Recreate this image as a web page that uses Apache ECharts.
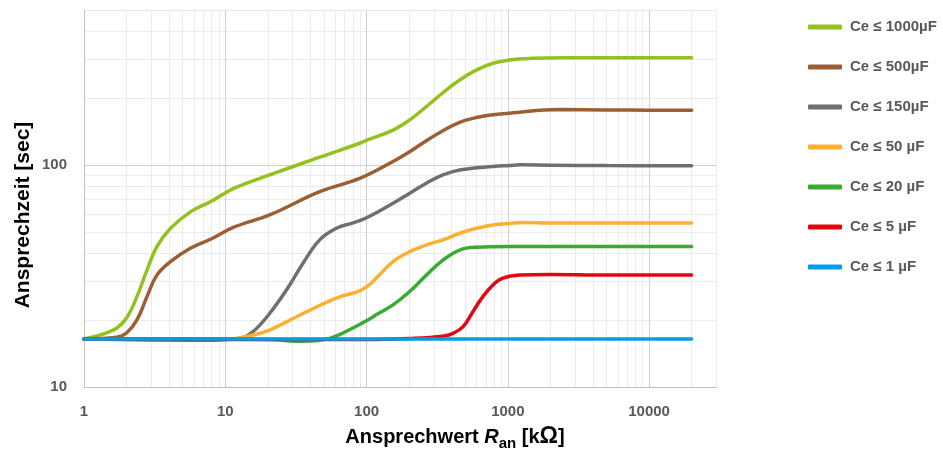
<!DOCTYPE html>
<html>
<head>
<meta charset="utf-8">
<script src="https://cdn.jsdelivr.net/npm/echarts@6/dist/echarts.min.js"></script>
<style>
html,body{margin:0;padding:0;background:#fff;}
#chart{width:943px;height:450px;}
</style>
</head>
<body>
<div id="chart"></div>
<script>
// ---- Data ----
const seriesNames = ['Ce ≤ 1000µF','Ce ≤ 500µF','Ce ≤ 150µF','Ce ≤ 50 µF','Ce ≤ 20 µF','Ce ≤ 5 µF','Ce ≤ 1 µF'];
const seriesColors = ['#95c11f','#9b5f33','#6f6f6f','#fbb034','#3aaa35','#e30613','#009fe3'];

const x1000 = [1, 1.38, 1.71, 2.0, 2.37, 2.79, 3.28, 4.1, 5.7, 7.85, 11.5, 20.6, 46.6, 89.4, 105, 154, 202, 265, 347, 456, 598, 785, 1030, 1500, 2500, 5000, 10000, 20000];
const y1000 = [16.5, 17.4, 18.5, 20.5, 25.6, 33.7, 43, 52, 61.8, 68.5, 78.7, 90.4, 108.7, 125.6, 131, 144, 160, 183.6, 212, 242, 268, 288, 298, 303, 305, 305, 305, 305];

const x500 = [1, 1.71, 2.01, 2.37, 2.79, 3.28, 4.09, 5.66, 7.85, 11.5, 20.6, 46.6, 89.4, 154, 202, 265, 347, 456, 598, 785, 1030, 2330, 5000, 10000, 20000];
const y500 = [16.5, 16.8, 17.6, 20.1, 25.6, 32, 36.8, 42.3, 46.4, 52.6, 59.7, 76, 87.3, 104, 115, 129, 143, 156, 164, 168.7, 171.6, 178, 177.5, 177, 177];

const x150 = [1, 7, 12.6, 15.7, 20.6, 27.1, 35.5, 46.6, 61.1, 80.1, 100, 154, 202, 265, 347, 456, 785, 1030, 1213, 2000, 5000, 20000];
const y150 = [16.5, 16.3, 16.6, 17.8, 21.5, 27.4, 36.2, 46.1, 52, 55, 58, 67.4, 74.8, 83, 90.4, 95.2, 98.8, 99.8, 100.4, 100, 99.6, 99.5];

const x50 = [1, 10.7, 15.7, 20.6, 35.5, 61.1, 89.4, 105, 117, 154, 202, 265, 347, 456, 598, 785, 1030, 1300, 2000, 5000, 20000];
const y50 = [16.5, 16.5, 17.2, 18.1, 21.5, 25.2, 27.2, 29, 31, 36.8, 40.8, 43.8, 46.1, 49.4, 52, 53.8, 54.7, 55.2, 55, 55, 55];

const x20 = [1, 20, 35.5, 54.8, 80.1, 105, 117, 154, 202, 265, 347, 456, 598, 1030, 2000, 5000, 20000];
const y20 = [16.5, 16.4, 16.1, 16.6, 18.5, 20.3, 21.2, 23.5, 27, 32, 37.4, 41.5, 42.7, 43, 43, 43, 43];

const x5 = [1, 100, 200, 347, 409, 481, 566, 666, 785, 923, 1213, 2000, 5000, 20000];
const y5 = [16.5, 16.4, 16.6, 17, 17.5, 18.7, 21.9, 25.6, 28.9, 31, 32, 32.2, 32, 32];

const x1 = [1, 10, 100, 1000, 10000, 20000];
const y1 = [16.5, 16.5, 16.5, 16.5, 16.5, 16.5];

// ---- Axis ticks / grid values ----
const xMin = 1, xMax = 30000;
const yMin = 10, yMax = 500;
const xMajorGrid = [10, 100, 1000, 10000];
const yMajorGrid = [100];
const xMinorGrid = [2,3,4,5,6,7,8,9,20,30,40,50,60,70,80,90,200,300,400,500,600,700,800,900,2000,3000,4000,5000,6000,7000,8000,9000,20000,30000];
const yMinorGrid = [20,30,40,50,60,70,80,90,200,300,400,500];

const xs = [x1000, x500, x150, x50, x20, x5, x1];
const ys = [y1000, y500, y150, y50, y20, y5, y1];

const chart = echarts.init(document.getElementById('chart'), null, {renderer: 'canvas'});

const pow10Label = function (v) {
  const l = Math.log10(v);
  return Math.abs(l - Math.round(l)) < 1e-6 ? String(Math.round(v)) : '';
};

const FONT = '"Liberation Sans", Arial, sans-serif';

const gridSeries = [
  {
    name: '_minor', type: 'line', data: [], z: 0, silent: true, animation: false,
    markLine: {
      z: 0, silent: true, animation: false, symbol: ['none','none'], label: {show: false},
      lineStyle: {color: '#ebebeb', width: 1, type: 'solid'},
      emphasis: {disabled: true},
      data: xMinorGrid.map(v => ({xAxis: v})).concat(yMinorGrid.map(v => ({yAxis: v})))
    }
  },
  {
    name: '_major', type: 'line', data: [], z: 1, silent: true, animation: false,
    markLine: {
      z: 1, silent: true, animation: false, symbol: ['none','none'], label: {show: false},
      lineStyle: {color: '#d0d0d0', width: 1, type: 'solid'},
      emphasis: {disabled: true},
      data: xMajorGrid.map(v => ({xAxis: v})).concat(yMajorGrid.map(v => ({yAxis: v})))
    }
  }
];

const dataSeries = seriesNames.map((name, i) => ({
  name: name,
  type: 'line',
  z: 3 + i,
  smooth: 0.4,
  showSymbol: false,
  symbol: 'none',
  animation: false,
  color: seriesColors[i],
  lineStyle: {width: 3.5, color: seriesColors[i], cap: 'round'},
  data: xs[i].map((x, j) => [x, ys[i][j]])
}));

chart.setOption({
  backgroundColor: '#ffffff',
  animation: false,
  textStyle: {fontFamily: FONT},
  grid: {left: 84, top: 10, width: 632.5, height: 377.3, containLabel: false},
  xAxis: {
    type: 'log', logBase: 10, min: xMin, max: xMax,
    axisLine: {show: true, lineStyle: {color: '#bfbfbf', width: 1}},
    axisTick: {show: false},
    splitLine: {show: false},
    axisLabel: {formatter: pow10Label, color: '#595959', fontSize: 15, fontWeight: 'bold', fontFamily: FONT, margin: 17}
  },
  yAxis: {
    type: 'log', logBase: 10, min: yMin, max: yMax,
    axisLine: {show: true, lineStyle: {color: '#bfbfbf', width: 1}},
    axisTick: {show: false},
    splitLine: {show: false},
    axisLabel: {formatter: pow10Label, color: '#595959', fontSize: 15, fontWeight: 'bold', fontFamily: FONT, margin: 17}
  },
  legend: {
    data: seriesNames,
    orient: 'vertical',
    left: 803,
    top: 14,
    icon: 'roundRect',
    itemWidth: 34,
    itemHeight: 5,
    itemGap: 24,
    textStyle: {color: '#595959', fontSize: 15, fontWeight: 'bold', fontFamily: FONT, lineHeight: 16, padding: [0,0,0,3]}
  },
  graphic: [
    {
      type: 'text', x: 23, y: 215, rotation: Math.PI / 2, silent: true,
      style: {text: 'Ansprechzeit [sec]', fill: '#000', font: 'bold 21px ' + FONT, textAlign: 'center', textVerticalAlign: 'middle'}
    },
    {
      type: 'text', x: 455, y: 437, silent: true,
      style: {
        text: '{b|Ansprechwert }{i|R}{s|an}{b| [k}{o|Ω}{b|]}',
        textAlign: 'center', textVerticalAlign: 'middle',
        rich: {
          b: {fontSize: 20, fontWeight: 'bold', fontFamily: FONT, fill: '#000', color: '#000', lineHeight: 28, verticalAlign: 'middle'},
          i: {fontSize: 20, fontWeight: 'bold', fontStyle: 'italic', fontFamily: FONT, fill: '#000', color: '#000', lineHeight: 28, verticalAlign: 'middle'},
          s: {fontSize: 15, fontWeight: 'bold', fontFamily: FONT, fill: '#000', color: '#000', lineHeight: 17, verticalAlign: 'bottom'},
          o: {fontSize: 23, fontWeight: 'bold', fontFamily: FONT, fill: '#000', color: '#000', lineHeight: 28, verticalAlign: 'middle'}
        }
      }
    }
  ],
  series: gridSeries.concat(dataSeries)
});
</script>
</body>
</html>
